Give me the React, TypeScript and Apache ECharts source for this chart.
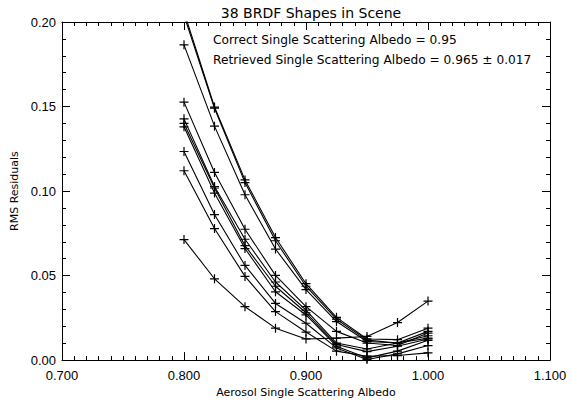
import React, { useEffect, useRef } from "react";
import * as echarts from "echarts";

// Aerosol single scattering albedo sampled for each BRDF shape curve
const albedo = [0.8, 0.825, 0.85, 0.875, 0.9, 0.925, 0.95, 0.975, 1.0];

// RMS residuals, one array per curve
const curveA1 = [0.206, 0.1497, 0.1066, 0.0725, 0.0452, 0.0253, 0.0125, 0.0121, 0.0189];
const curveA2 = [0.204, 0.149, 0.105, 0.0706, 0.0437, 0.0242, 0.0118, 0.0101, 0.017];
const curveB = [0.1865, 0.1384, 0.0978, 0.0657, 0.0417, 0.0228, 0.011, 0.0101, 0.013];
const curveC = [0.1526, 0.111, 0.0774, 0.0501, 0.0316, 0.017, 0.0101, 0.0086, 0.016];
const curveD = [0.1427, 0.1027, 0.0715, 0.0462, 0.0296, 0.0101, 0.0066, 0.0101, 0.0144];
const curveE = [0.14, 0.1018, 0.0677, 0.0437, 0.028, 0.0092, 0.005, 0.0082, 0.0125];
const curveF = [0.138, 0.0988, 0.066, 0.0404, 0.0267, 0.0082, 0.0013, 0.0053, 0.0117];
const curveG = [0.1234, 0.0861, 0.056, 0.0335, 0.0218, 0.0072, 0.0004, 0.0037, 0.0086];
const curveH = [0.112, 0.0778, 0.0495, 0.0287, 0.0166, 0.0053, 0.0023, 0.0027, 0.0043];
const curveI = [0.0713, 0.0481, 0.0316, 0.0189, 0.0125, 0.013, 0.014, 0.0222, 0.0349];

const curves = [curveA1, curveA2, curveB, curveC, curveD, curveE, curveF, curveG, curveH, curveI];

const titleText = "38 BRDF Shapes in Scene";
const noteLines = [
  "Correct Single Scattering Albedo = 0.95",
  "Retrieved Single Scattering Albedo = 0.965 \u00b1 0.017",
];
const xName = "Aerosol Single Scattering Albedo";
const yName = "RMS Residuals";

const plusSymbol = "path://M4,0L4,8M0,4L8,4";
const labelFont = "'Liberation Sans', Arial, sans-serif";
const textFont = "'DejaVu Sans', 'Liberation Sans', sans-serif";

export default function App() {
  const ref = useRef<HTMLDivElement>(null);

  useEffect(() => {
    if (!ref.current) return;
    const chart = echarts.init(ref.current, null, { renderer: "svg" });

    const axisLine = { show: true, onZero: false, lineStyle: { color: "#000", width: 1 } };

    const xBase = {
      type: "value",
      min: 0.7,
      max: 1.1,
      interval: 0.1,
      axisLine,
      axisTick: { show: true, inside: true, length: 8, lineStyle: { color: "#000" } },
      minorTick: { show: true, splitNumber: 10, length: 4, lineStyle: { color: "#000" } },
      splitLine: { show: false },
      minorSplitLine: { show: false },
    };
    const yBase = {
      type: "value",
      min: 0,
      max: 0.2,
      interval: 0.05,
      axisLine,
      axisTick: { show: true, inside: true, length: 8, lineStyle: { color: "#000" } },
      minorTick: { show: true, splitNumber: 5, length: 4, lineStyle: { color: "#000" } },
      splitLine: { show: false },
      minorSplitLine: { show: false },
    };

    chart.setOption({
      animation: false,
      backgroundColor: "#fff",
      title: {
        text: titleText,
        left: 306,
        top: 1,
        textAlign: "center",
        textStyle: { fontFamily: textFont, fontSize: 14, fontWeight: "normal", color: "#000" },
      },
      grid: { left: 62, right: 21, top: 22, bottom: 39 },
      xAxis: [
        {
          ...xBase,
          position: "bottom",
          name: xName,
          nameLocation: "middle",
          nameGap: 25,
          nameTextStyle: { fontFamily: textFont, fontSize: 11, color: "#000" },
          axisLabel: {
            show: true,
            margin: 9,
            color: "#000",
            fontFamily: labelFont,
            fontSize: 13,
            formatter: (v: number) => v.toFixed(3),
          },
        },
        { ...xBase, position: "top", axisLabel: { show: false } },
      ],
      yAxis: [
        {
          ...yBase,
          position: "left",
          name: yName,
          nameLocation: "middle",
          nameGap: 24,
          nameTextStyle: { fontFamily: textFont, fontSize: 11, color: "#000" },
          axisLabel: {
            show: true,
            margin: 6,
            color: "#000",
            fontFamily: labelFont,
            fontSize: 13,
            formatter: (v: number) => v.toFixed(2),
          },
        },
        { ...yBase, position: "right", axisLabel: { show: false } },
      ],
      graphic: noteLines.map((t, i) => ({
        type: "text",
        left: 213,
        top: 34 + i * 20,
        style: { text: t, fontFamily: textFont, fontSize: 12.2, fill: "#000" },
      })),
      series: curves.map((vals) => ({
        type: "line",
        xAxisIndex: 0,
        yAxisIndex: 0,
        clip: true,
        data: albedo.map((x, i) => [x, vals[i]]),
        symbol: plusSymbol,
        symbolSize: 9,
        showAllSymbol: true,
        lineStyle: { color: "#000", width: 1.1 },
        itemStyle: { color: "#000", borderColor: "#000", borderWidth: 1.2 },
      })),
    });

    return () => chart.dispose();
  }, []);

  return <div ref={ref} style={{ width: 571, height: 403, position: "absolute", left: 0, top: 0 }} />;
}
